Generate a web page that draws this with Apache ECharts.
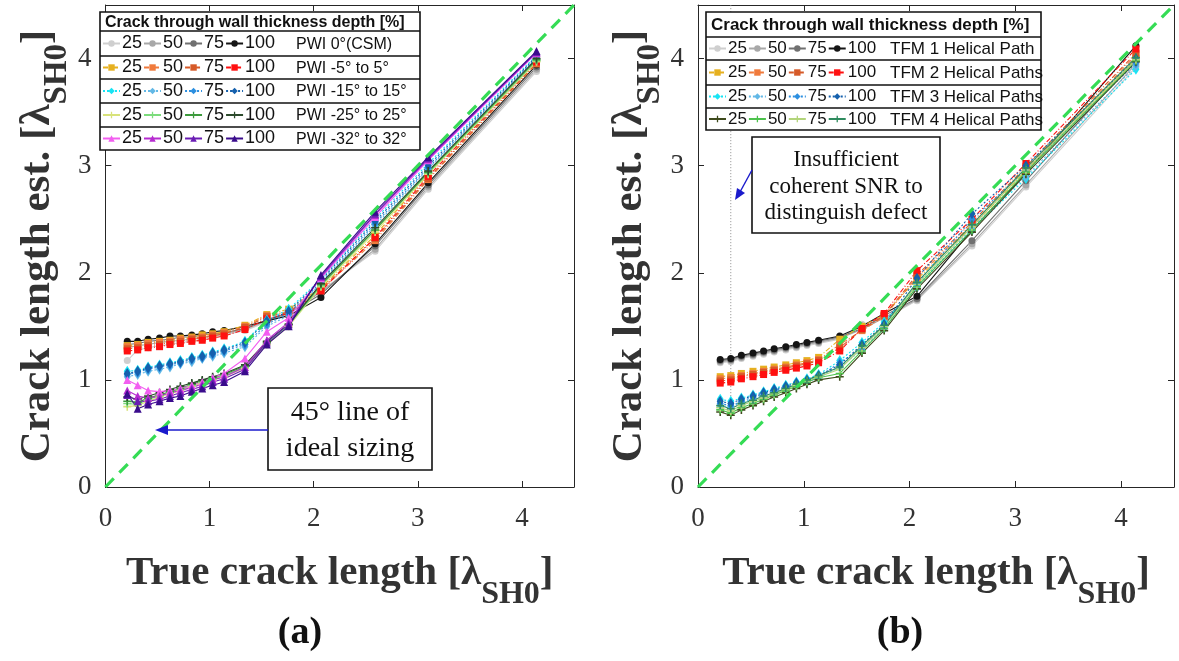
<!DOCTYPE html>
<html><head><meta charset="utf-8">
<script src="https://cdn.jsdelivr.net/npm/echarts@6/dist/echarts.min.js"></script>
<style>html,body{margin:0;padding:0;background:#fff}#c{width:1179px;height:661px}</style>
</head><body><div id="c"></div>
<script>
// ---------- data ----------
const xTrue = [0.21,0.31,0.41,0.52,0.62,0.72,0.83,0.93,1.03,1.14,1.34,1.55,1.76,2.07,2.59,3.10,4.14];
const depths = ['25','50','75','100'];
const groupsA = ['PWI 0°(CSM)','PWI -5° to 5°','PWI -15° to 15°','PWI -25° to 25°','PWI -32° to 32°'];
const groupsB = ['TFM 1 Helical Path','TFM 2 Helical Paths','TFM 3 Helical Paths','TFM 4 Helical Paths'];
const legendTitle = 'Crack through wall thickness depth [%]';
const diagX = [0, 4.5];
const diagY = [0, 4.5];
const snrLineX = [0.31, 0.31];
const snrLineY = [0.68, 4.5];

// panel (a)
const a0_25  = [1.18,1.28,1.30,1.32,1.33,1.35,1.36,1.38,1.40,1.42,1.46,1.54,1.62,1.83,2.20,2.78,3.88];
const a0_50  = [1.30,1.32,1.33,1.35,1.36,1.37,1.38,1.40,1.41,1.43,1.47,1.55,1.63,1.82,2.22,2.80,3.90];
const a0_75  = [1.33,1.34,1.36,1.37,1.38,1.40,1.40,1.42,1.43,1.44,1.48,1.56,1.62,1.80,2.25,2.82,3.92];
const a0_100 = [1.36,1.36,1.38,1.39,1.41,1.41,1.42,1.43,1.45,1.46,1.50,1.55,1.60,1.77,2.27,2.84,3.94];
const a5_25  = [1.32,1.33,1.35,1.36,1.37,1.39,1.40,1.42,1.43,1.45,1.51,1.61,1.66,1.86,2.35,2.92,3.98];
const a5_50  = [1.31,1.32,1.34,1.35,1.36,1.38,1.39,1.40,1.42,1.44,1.50,1.60,1.64,1.84,2.30,2.87,3.95];
const a5_75  = [1.29,1.30,1.32,1.33,1.35,1.36,1.38,1.39,1.41,1.43,1.49,1.59,1.63,1.85,2.32,2.88,3.96];
const a5_100 = [1.27,1.28,1.30,1.31,1.33,1.34,1.36,1.37,1.39,1.41,1.47,1.57,1.62,1.83,2.33,2.90,3.97];
const a15_25  = [1.08,1.09,1.12,1.14,1.16,1.18,1.21,1.23,1.26,1.29,1.36,1.56,1.66,1.94,2.50,3.02,4.03];
const a15_50  = [1.03,1.05,1.08,1.10,1.12,1.15,1.17,1.20,1.22,1.25,1.31,1.50,1.60,1.90,2.44,2.97,4.00];
const a15_75  = [1.05,1.07,1.10,1.12,1.14,1.16,1.19,1.21,1.24,1.27,1.33,1.52,1.62,1.91,2.46,2.98,4.01];
const a15_100 = [1.06,1.08,1.11,1.13,1.15,1.17,1.20,1.22,1.25,1.28,1.35,1.55,1.64,1.93,2.48,3.00,4.02];
const a25_25  = [0.75,0.76,0.80,0.84,0.87,0.90,0.94,0.97,1.00,1.03,1.11,1.33,1.50,1.87,2.38,2.92,3.97];
const a25_50  = [0.78,0.77,0.82,0.85,0.88,0.91,0.95,0.98,1.01,1.04,1.12,1.34,1.51,1.88,2.40,2.93,3.98];
const a25_75  = [0.80,0.79,0.83,0.86,0.89,0.92,0.96,0.99,1.02,1.05,1.13,1.35,1.52,1.89,2.40,2.94,3.99];
const a25_100 = [0.84,0.82,0.85,0.88,0.91,0.94,0.97,1.00,1.03,1.06,1.14,1.36,1.52,1.90,2.42,2.95,4.00];
const a32_25  = [1.00,0.95,0.90,0.89,0.90,0.92,0.95,0.98,1.02,1.06,1.20,1.45,1.58,1.95,2.52,3.05,4.05];
const a32_50  = [0.90,0.85,0.83,0.85,0.88,0.90,0.93,0.96,1.00,1.03,1.12,1.37,1.54,1.96,2.54,3.06,4.06];
const a32_75  = [0.86,0.80,0.80,0.82,0.85,0.88,0.91,0.94,0.98,1.01,1.10,1.35,1.52,1.97,2.55,3.07,4.06];
const a32_100 = [0.87,0.73,0.77,0.80,0.83,0.85,0.89,0.92,0.95,0.98,1.08,1.33,1.50,1.98,2.57,3.08,4.07];

// panel (b)
const b1_25  = [1.16,1.17,1.20,1.22,1.24,1.26,1.28,1.30,1.32,1.34,1.38,1.52,1.57,1.74,2.25,2.80,3.92];
const b1_50  = [1.17,1.18,1.21,1.23,1.25,1.27,1.29,1.31,1.33,1.35,1.39,1.47,1.58,1.75,2.27,2.82,3.95];
const b1_75  = [1.18,1.19,1.22,1.24,1.26,1.28,1.30,1.32,1.34,1.36,1.40,1.48,1.60,1.76,2.30,2.86,4.00];
const b1_100 = [1.19,1.20,1.23,1.25,1.27,1.29,1.31,1.33,1.35,1.37,1.41,1.50,1.62,1.78,2.40,2.93,4.12];
const b2_25  = [1.03,1.04,1.06,1.08,1.10,1.12,1.14,1.16,1.18,1.21,1.38,1.50,1.61,1.94,2.43,2.95,4.00];
const b2_50  = [1.01,1.02,1.04,1.06,1.08,1.10,1.12,1.14,1.16,1.19,1.33,1.46,1.59,1.96,2.45,2.97,4.03];
const b2_75  = [0.99,1.00,1.03,1.05,1.07,1.09,1.11,1.13,1.15,1.18,1.30,1.47,1.60,1.98,2.47,2.99,4.05];
const b2_100 = [0.97,0.98,1.01,1.03,1.05,1.07,1.09,1.11,1.13,1.16,1.27,1.48,1.62,2.02,2.50,3.02,4.09];
const b3_25  = [0.82,0.80,0.83,0.86,0.89,0.92,0.95,0.98,1.01,1.05,1.18,1.35,1.54,1.88,2.40,2.88,3.90];
const b3_50  = [0.76,0.75,0.79,0.82,0.86,0.89,0.92,0.95,0.98,1.02,1.12,1.28,1.48,1.86,2.42,2.90,3.93];
const b3_75  = [0.78,0.76,0.80,0.84,0.87,0.90,0.93,0.96,0.99,1.03,1.16,1.30,1.50,1.90,2.50,2.96,3.96];
const b3_100 = [0.80,0.78,0.82,0.85,0.88,0.91,0.94,0.97,1.00,1.04,1.14,1.33,1.52,1.95,2.55,3.00,4.00];
const b4_25  = [0.70,0.67,0.72,0.76,0.80,0.84,0.88,0.92,0.96,1.00,1.03,1.25,1.46,1.85,2.38,2.92,3.97];
const b4_50  = [0.72,0.69,0.74,0.78,0.82,0.86,0.90,0.94,0.98,1.02,1.06,1.27,1.48,1.87,2.40,2.94,3.98];
const b4_75  = [0.74,0.71,0.76,0.80,0.83,0.87,0.91,0.95,0.99,1.03,1.10,1.30,1.50,1.89,2.43,2.96,3.99];
const b4_100 = [0.76,0.73,0.78,0.81,0.85,0.88,0.92,0.96,1.00,1.04,1.12,1.32,1.51,1.91,2.45,2.98,4.01];

const dataA = [[a0_25,a0_50,a0_75,a0_100],[a5_25,a5_50,a5_75,a5_100],[a15_25,a15_50,a15_75,a15_100],[a25_25,a25_50,a25_75,a25_100],[a32_25,a32_50,a32_75,a32_100]];
const dataB = [[b1_25,b1_50,b1_75,b1_100],[b2_25,b2_50,b2_75,b2_100],[b3_25,b3_50,b3_75,b3_100],[b4_25,b4_50,b4_75,b4_100]];

// ---------- styles ----------
const PLUS = 'path://M4,0h2v4h4v2h-4v4h-2v-4h-4v-2h4z';
const stylesA = [
  {sym:'circle', size:7, type:'solid', colors:['#cfcfcf','#a8a8a8','#707070','#151515']},
  {sym:'rect', size:7, type:[5,2,1,2], colors:['#e6b020','#f07a3c','#d65a28','#ff1010']},
  {sym:'diamond', size:[7,11], type:[2,2], colors:['#18e4f4','#62b8e6','#2c8fe0','#1560ad']},
  {sym:PLUS, size:8, type:'solid', colors:['#d8e27a','#7cdc7c','#3c9a3c','#2c4a2c']},
  {sym:'triangle', size:8, type:'solid', colors:['#f25ef0','#b62cd0','#6a1cb4','#3a0c8c']}
];
const stylesB = [
  {sym:'circle', size:7, type:'solid', colors:['#cfcfcf','#a8a8a8','#707070','#151515']},
  {sym:'rect', size:7, type:[5,2,1,2], colors:['#e6b020','#f07a3c','#d65a28','#ff1010']},
  {sym:'diamond', size:[7,11], type:[2,2], colors:['#18e4f4','#62b8e6','#2c8fe0','#1560ad']},
  {sym:PLUS, size:8, type:'solid', colors:['#3e4a1c','#4cc24c','#b2d47a','#2e8b5e']}
];

const series = [];
function addGroup(prefix, gi, grid, data, st) {
  data.forEach((arr, di) => {
    series.push({
      name: prefix + gi + '_' + depths[di],
      type: 'line', xAxisIndex: grid, yAxisIndex: grid,
      data: xTrue.map((x, i) => [x, arr[i]]),
      symbol: st.sym, symbolSize: st.size, showSymbol: true,
      lineStyle: {color: st.colors[di], width: 1.1, type: st.type},
      itemStyle: {color: st.colors[di]},
      animation: false, z: 2
    });
  });
}
dataA.forEach((g, gi) => addGroup('a', gi, 0, g, stylesA[gi]));
dataB.forEach((g, gi) => addGroup('b', gi, 1, g, stylesB[gi]));
[0,1].forEach(g => series.push({
  name: 'diag' + g, type: 'line', xAxisIndex: g, yAxisIndex: g,
  data: diagX.map((x, i) => [x, diagY[i]]), symbol: 'none',
  lineStyle: {color: '#35dc55', width: 3.2, type: [12, 8]}, z: 3, animation: false
}));
series.push({
  name: 'snr', type: 'line', xAxisIndex: 1, yAxisIndex: 1,
  data: snrLineX.map((x, i) => [x, snrLineY[i]]), symbol: 'none',
  lineStyle: {color: '#8c8c8c', width: 1, type: [1, 2]}, z: 1, animation: false
});

// ---------- axes ----------
const SERIF = '"Liberation Serif","Times New Roman",serif';
const SANS = '"Liberation Sans",Arial,sans-serif';
const axisCol = '#262626';
const richX = {
  m: {fontFamily: SERIF, fontWeight: 'bold', fontSize: 41, lineHeight: 45, color: '#333', verticalAlign: 'middle'},
  s: {fontFamily: SERIF, fontWeight: 'bold', fontSize: 32, lineHeight: 32, color: '#333', padding: [42, 0, 0, 0]}
};
const richY = {
  m: {fontFamily: SERIF, fontWeight: 'bold', fontSize: 43, lineHeight: 47, color: '#333', verticalAlign: 'middle'},
  s: {fontFamily: SERIF, fontWeight: 'bold', fontSize: 33, lineHeight: 33, color: '#333', padding: [40, 0, 0, 0]}
};
function xAx(grid, pos) {
  const main = pos === 'bottom';
  return {
    type: 'value', gridIndex: grid, position: pos, min: 0, max: 4.5, interval: 1,
    axisLine: {show: true, onZero: false, lineStyle: {color: axisCol, width: 1}},
    axisTick: {show: true, inside: true, length: 6, lineStyle: {color: axisCol}},
    axisLabel: {show: main, margin: 18, fontFamily: SERIF, fontSize: 27, color: '#333',
      formatter: v => (v > 4.01 ? '' : String(v))},
    splitLine: {show: false},
    name: main ? '{m|True crack length [λ}{s|SH0}{m|]}' : '',
    nameLocation: 'middle', nameGap: 30,
    nameTextStyle: {rich: richX}
  };
}
function yAx(grid, pos) {
  const main = pos === 'left';
  return {
    type: 'value', gridIndex: grid, position: pos, min: 0, max: 4.5, interval: 1,
    axisLine: {show: true, onZero: false, lineStyle: {color: axisCol, width: 1}},
    axisTick: {show: true, inside: true, length: 6, lineStyle: {color: axisCol}},
    axisLabel: {show: main, margin: 14, fontFamily: SERIF, fontSize: 27, color: '#333',
      formatter: v => (v > 4.01 ? '' : String(v))},
    splitLine: {show: false},
    name: main ? '{m|Crack length est. [λ}{s|SH0}{m|]}' : '',
    nameLocation: 'middle', nameGap: 40,
    nameTextStyle: {rich: richY}
  };
}

// ---------- legends ----------
const legends = [];
const gfx = [];
function legendBlock(prefix, groups, left, boxW, top, titleH, rowHs, numFont, labFont, labX, itemW, titleFont) {
  const boxH = titleH + rowHs.reduce((a, b) => a + b, 0);
  gfx.push({type: 'rect', shape: {x: left, y: top, width: boxW, height: boxH},
    style: {fill: '#fff', stroke: '#111', lineWidth: 1.6}, z: 10});
  gfx.push({type: 'text', style: {x: left + 5, y: top + titleH / 2 + 1, text: legendTitle,
    font: 'bold ' + titleFont + 'px ' + SANS, fill: '#111', verticalAlign: 'middle'}, z: 11});
  let y = top + titleH;
  groups.forEach((g, gi) => {
    gfx.push({type: 'line', shape: {x1: left, y1: y, x2: left + boxW, y2: y},
      style: {stroke: '#111', lineWidth: 1.4}, z: 11});
    const c = y + rowHs[gi] / 2;
    legends.push({
      left: left + 2, top: c - numFont / 2, orient: 'horizontal', padding: 0,
      itemWidth: itemW, itemHeight: 8, itemGap: 1, selectedMode: false, z: 12,
      textStyle: {fontFamily: SANS, fontSize: numFont, color: '#111', padding: [0, 0, 0, -3]},
      data: depths.map(d => prefix + gi + '_' + d),
      formatter: n => n.split('_')[1]
    });
    gfx.push({type: 'text', style: {x: labX, y: c + 1, text: g,
      font: labFont + 'px ' + SANS, fill: '#111', verticalAlign: 'middle'}, z: 12});
    y += rowHs[gi];
  });
}
legendBlock('a', groupsA, 100, 320, 12, 19, [25, 23, 24, 24, 23], 18, 16, 296, 17, 16);
legendBlock('b', groupsB, 706, 335, 12, 25, [23, 25, 23, 22], 17, 17, 890, 17, 17);

// ---------- annotations ----------
gfx.push({type: 'rect', shape: {x: 268, y: 388, width: 164, height: 82},
  style: {fill: '#fff', stroke: '#111', lineWidth: 1.6}, z: 10});
gfx.push({type: 'text', style: {x: 350, y: 413, text: '45° line of', font: '28px ' + SERIF,
  fill: '#111', align: 'center', verticalAlign: 'middle'}, z: 11});
gfx.push({type: 'text', style: {x: 350, y: 449, text: 'ideal sizing', font: '28px ' + SERIF,
  fill: '#111', align: 'center', verticalAlign: 'middle'}, z: 11});
gfx.push({type: 'line', shape: {x1: 268, y1: 430, x2: 164, y2: 430},
  style: {stroke: '#1a1acc', lineWidth: 1.6}, z: 11});
gfx.push({type: 'polygon', shape: {points: [[155, 430], [168, 425], [168, 435]]},
  style: {fill: '#1a1acc'}, z: 11});

gfx.push({type: 'rect', shape: {x: 752, y: 137, width: 188, height: 96},
  style: {fill: '#fff', stroke: '#111', lineWidth: 1.6}, z: 10});
['Insufficient', 'coherent SNR to', 'distinguish defect'].forEach((t, i) => {
  gfx.push({type: 'text', style: {x: 846, y: 160 + i * 26.5, text: t, font: '23px ' + SERIF,
    fill: '#111', align: 'center', verticalAlign: 'middle'}, z: 11});
});
gfx.push({type: 'line', shape: {x1: 752, y1: 170, x2: 740, y2: 192},
  style: {stroke: '#1a1acc', lineWidth: 1.4}, z: 11});
gfx.push({type: 'polygon', shape: {points: [[735, 200], [737, 188], [745, 193]]},
  style: {fill: '#1a1acc'}, z: 11});

const chart = echarts.init(document.getElementById('c'), null, {renderer: 'canvas'});
chart.setOption({
  backgroundColor: '#fff',
  animation: false,
  grid: [
    {left: 99, top: 5, width: 475, height: 482},
    {left: 698, top: 5, width: 476, height: 482}
  ],
  xAxis: [xAx(0, 'bottom'), xAx(1, 'bottom'), xAx(0, 'top'), xAx(1, 'top')],
  yAxis: [yAx(0, 'left'), yAx(1, 'left'), yAx(0, 'right'), yAx(1, 'right')],
  title: [
    {text: '(a)', left: 295, top: 609, textAlign: 'center',
      textStyle: {fontFamily: SERIF, fontWeight: 'bold', fontSize: 38, color: '#111'}},
    {text: '(b)', left: 895, top: 609, textAlign: 'center',
      textStyle: {fontFamily: SERIF, fontWeight: 'bold', fontSize: 38, color: '#111'}}
  ],
  legend: legends,
  graphic: gfx,
  series: series
});
</script></body></html>
